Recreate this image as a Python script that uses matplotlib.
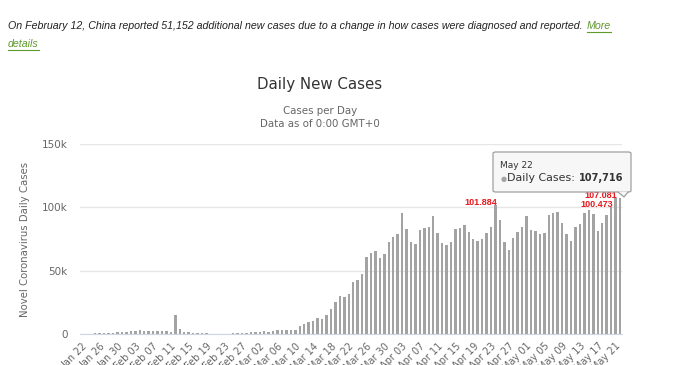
import numpy as np
import pandas as pd
import matplotlib
matplotlib.use("Agg")
import matplotlib.pyplot as plt
from matplotlib.patches import FancyBboxPatch, Polygon

# daily new cases, Jan 22 .. May 22
jan = [0, 100, 300, 500, 700, 1000, 800, 1000, 1300, 1600]
feb = [1800, 2100, 2600, 3100, 2600, 2600, 2600, 2400, 2100, 2100, 1800, 15100, 4000,
       1800, 1300, 1100, 1100, 1100, 400, 300, 300, 300, 300, 300, 400, 500, 800, 800, 1600]
mar = [1600, 1600, 2100, 1600, 2100, 2900, 3400, 3400, 3400, 3400, 6000, 7600, 9700,
       10300, 12900, 11800, 14700, 19700, 25200, 30200, 28900, 31600, 40800, 42600,
       47600, 60500, 63600, 65800, 59700, 63100, 72900]
apr = [76300, 78900, 95200, 82600, 72900, 70700, 82100, 83400, 84700, 92800, 80000,
       71500, 70200, 72900, 82700, 84000, 86000, 80300, 75000, 73400, 75000, 80000,
       84200, 101884, 89900, 72900, 66300, 76000, 80500, 84700]
may = [93100, 82000, 81500, 78600, 80000, 93900, 95700, 96000, 87300, 78600, 73100,
       84200, 86800, 95200, 97800, 94700, 81500, 87600, 93600, 100473, 107081, 107716]
cases = jan + feb + mar + apr + may
dates = pd.date_range("2020-01-22", periods=len(cases), freq="D")
labels = [d.strftime("%b %d") for d in dates]
marked = ["Apr 24", "May 20", "May 21"]   # days with red value labels

W, H = 680, 365
fig = plt.figure(figsize=(W / 100, H / 100), dpi=100)
fig.patch.set_facecolor("white")

def fx(x):
    return x / W

def fy(y):
    return 1 - y / H

# note at the top
fig.text(fx(8), fy(26), "On February 12, China reported 51,152 additional new cases due to a change in how cases were diagnosed and reported.",
         family="Liberation Sans", style="italic", fontsize=7.65, color="#222222", va="center", ha="left")
fig.text(fx(587), fy(26), "More", family="Liberation Sans", style="italic", fontsize=7.65,
         color="#5e9a2e", va="center", ha="left")
fig.text(fx(8), fy(44), "details", family="Liberation Sans", style="italic", fontsize=7.65,
         color="#5e9a2e", va="center", ha="left")
fig.add_artist(plt.Line2D([fx(587), fx(611)], [fy(32), fy(32)], color="#5e9a2e", lw=0.8))
fig.add_artist(plt.Line2D([fx(8), fx(39)], [fy(50), fy(50)], color="#5e9a2e", lw=0.8))

# titles
fig.text(fx(320), fy(85), "Daily New Cases", family="DejaVu Sans", fontsize=10.8, color="#333333",
         ha="center", va="center")
fig.text(fx(320), fy(111), "Cases per Day", family="DejaVu Sans", fontsize=7.4, color="#666666",
         ha="center", va="center")
fig.text(fx(320), fy(124), "Data as of 0:00 GMT+0", family="DejaVu Sans", fontsize=7.4, color="#666666",
         ha="center", va="center")

ax = fig.add_axes([fx(79.7), fy(334), (622.2 - 79.7) / W, 190 / H])
x = np.arange(len(cases))
ax.bar(x, cases, width=0.55, color="#a3a3a3", zorder=2)
ax.set_xlim(-0.5, len(cases) - 0.5)
ax.set_ylim(0, 150000)
ax.set_yticks([0, 50000, 100000, 150000])
ax.set_yticklabels(["0", "50k", "100k", "150k"])
ax.yaxis.grid(True, color="#e6e6e6", lw=1, zorder=0)
for s in ["top", "right", "left"]:
    ax.spines[s].set_visible(False)
ax.spines["bottom"].set_color("#ccd6eb")
ax.tick_params(axis="y", length=0, pad=8.5, labelsize=7.5, labelcolor="#666666")
ax.set_xticks(x[::4])
ax.set_xticklabels(labels[::4], rotation=45, ha="right", va="top", rotation_mode="anchor")
ax.tick_params(axis="x", length=0, pad=5, labelsize=7, labelcolor="#666666")
for t in ax.get_yticklabels() + ax.get_xticklabels():
    t.set_family("DejaVu Sans")
ax.set_ylabel("Novel Coronavirus Daily Cases", family="DejaVu Sans", fontsize=7.3, color="#666666",
              labelpad=9)

# red value labels
for lab in marked:
    i = labels.index(lab)
    v = cases[i]
    ax.annotate(f"{v:,}".replace(",", "."), (i, v), xytext=(2, 2.5), textcoords="offset pixels",
                ha="right", va="center", fontsize=6.5, fontweight="bold", color="#e8171d",
                family="Liberation Sans", zorder=13, annotation_clip=False)

# tooltip for the last day
box = FancyBboxPatch((fx(493), fy(192)), fx(631) - fx(493), fy(152) - fy(192),
                     boxstyle="round,pad=0,rounding_size=0.004", transform=fig.transFigure,
                     facecolor="#f7f7f7", edgecolor="#a0a0a0", lw=0.9, zorder=10)
fig.add_artist(box)
tip = Polygon([(fx(618), fy(191.5)), (fx(624), fy(197)), (fx(628), fy(191.5))], closed=True,
              transform=fig.transFigure, facecolor="#f7f7f7", edgecolor="none", zorder=11)
fig.add_artist(tip)
fig.add_artist(plt.Line2D([fx(618), fx(624), fx(628)], [fy(192), fy(197), fy(192)],
                          color="#a0a0a0", lw=0.9, zorder=11))
last = len(cases) - 1
fig.text(fx(500), fy(166), dates[last].strftime("%b %d").replace(" 0", " "), family="DejaVu Sans",
         fontsize=6.5, color="#333333", va="center", zorder=12)
fig.text(fx(501), fy(179), "\u25cf", family="DejaVu Sans", fontsize=5, color="#a3a3a3",
         va="center", zorder=12)
fig.text(fx(507), fy(178), "Daily Cases:", family="DejaVu Sans", fontsize=7.9, color="#333333",
         va="center", zorder=12)
fig.text(fx(623), fy(178), f"{cases[last]:,}", family="DejaVu Sans", fontsize=7.1, color="#333333",
         fontweight="bold", va="center", ha="right", zorder=12)

fig.savefig("out.png", dpi=100)
